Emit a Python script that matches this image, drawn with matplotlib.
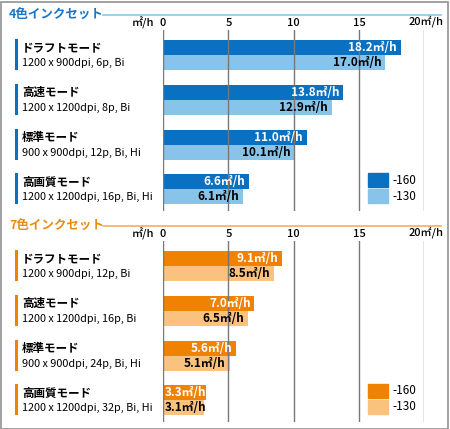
import matplotlib
matplotlib.use("Agg")
import matplotlib.pyplot as plt
from matplotlib.patches import Rectangle

plt.rcParams['font.family'] = ['Noto Sans CJK JP', 'DejaVu Sans']

W, H = 450, 429

# data
modes = ["ドラフトモード", "高速モード", "標準モード", "高画質モード"]
specs_4 = ["1200 x 900dpi, 6p, Bi", "1200 x 1200dpi, 8p, Bi",
           "900 x 900dpi, 12p, Bi, Hi", "1200 x 1200dpi, 16p, Bi, Hi"]
specs_7 = ["1200 x 900dpi, 12p, Bi", "1200 x 1200dpi, 16p, Bi",
           "900 x 900dpi, 24p, Bi, Hi", "1200 x 1200dpi, 32p, Bi, Hi"]
v160_4 = [18.2, 13.8, 11.0, 6.6]
v130_4 = [17.0, 12.9, 10.1, 6.1]
v160_7 = [9.1, 7.0, 5.6, 3.3]
v130_7 = [8.5, 6.5, 5.1, 3.1]
ticks = [0, 5, 10, 15, 20]
tick_labels = ["0", "5", "10", "15", "20㎡/h"]
series = ["-160", "-130"]


def fx(px):
    return px / W


def fy(py):
    return 1 - py / H


fig = plt.figure(figsize=(W / 100, H / 100), dpi=100)

# outer frame
fig.patches.append(Rectangle((0.5 / W, 0.5 / H), 1 - 2.2 / W, 1 - 2.5 / H,
                             transform=fig.transFigure, fill=False,
                             edgecolor="#9a9a9a", lw=1.3))


def value_label(ax, v, y, col):
    txt = f"{v:.1f}㎡/h"
    if v < 4:
        ax.text(0.12, y, txt, ha="left", va="center", color=col,
                fontsize=8.5, fontweight="bold", zorder=3)
    else:
        ax.text(v - 0.3, y, txt, ha="right", va="center", color=col,
                fontsize=8.5, fontweight="bold", zorder=3)


def panel(top, title, specs, v160, v130, dark, light, title_col, line_col):
    # top = pixel y of title
    ax_top = top + 15
    ax_bot = top + 196
    ax = fig.add_axes([fx(163), fy(ax_bot), fx(424.4) - fx(163), fy(ax_top) - fy(ax_bot)])
    ax.set_xlim(0, 20)
    g0 = top + 40  # first group centre
    step = 44.8
    ytop = -(g0 - ax_top) / step
    ax.set_ylim((ax_bot - g0) / step, ytop)
    idx = list(range(len(v160)))
    h = 0.335
    ax.barh([i - h / 2 for i in idx], v160, height=h, color=dark, zorder=1)
    ax.barh([i + h / 2 for i in idx], v130, height=h, color=light, zorder=1)
    for t in ticks:
        ax.axvline(t, color="#777777", lw=1.0, zorder=2)
    for i in idx:
        value_label(ax, v160[i], i - h / 2, "white")
        value_label(ax, v130[i], i + h / 2, "black")
    ax.axis("off")

    # tick labels
    for t, lab in zip(ticks, tick_labels):
        if t == 20:
            ax.text(18.78, ytop - 0.04, lab, ha="left", va="bottom", fontsize=8,
                    fontweight="medium", clip_on=False)
        else:
            ax.text(t, ytop - 0.04, lab, ha="center", va="bottom", fontsize=8,
                    fontweight="medium", clip_on=False)
    fig.text(fx(154), fy(top + 14), "㎡/h", ha="right", va="bottom", fontsize=8,
             fontweight="medium")

    # title and rule
    fig.text(fx(9), fy(top), title, ha="left", va="center", color=title_col,
             fontsize=9, fontweight="bold")
    fig.add_artist(plt.Line2D([fx(103), fx(441)], [fy(top), fy(top)], color=line_col,
                              lw=1.3))

    # row labels
    for i, (m, s) in enumerate(zip(modes, specs)):
        cy = g0 + i * step
        fig.add_artist(plt.Line2D([fx(16), fx(16)], [fy(cy - 15), fy(cy + 13)],
                                  color=dark, lw=2.2))
        fig.text(fx(22), fy(cy - 7), m, ha="left", va="center", fontsize=8.3,
                 fontweight="bold")
        fig.text(fx(22), fy(cy + 8), s, ha="left", va="center", fontsize=7.8)

    # legend
    ly = top + 158
    for k, (lab, col) in enumerate(zip(series, [dark, light])):
        y0 = ly + k * 16
        fig.patches.append(Rectangle((fx(368), fy(y0 + 14)), fx(20), 14 / H,
                                     transform=fig.transFigure, color=col))
        fig.text(fx(392), fy(y0 + 7), lab, ha="left", va="center", fontsize=8.5)


panel(15, "4色インクセット", specs_4, v160_4, v130_4,
      "#0a70c2", "#88c4ea", "#1a76c6", "#94cbec")
panel(226, "7色インクセット", specs_7, v160_7, v130_7,
      "#ef8200", "#f9c37f", "#ef8a10", "#f6b56a")

fig.savefig("out.png", dpi=100)
